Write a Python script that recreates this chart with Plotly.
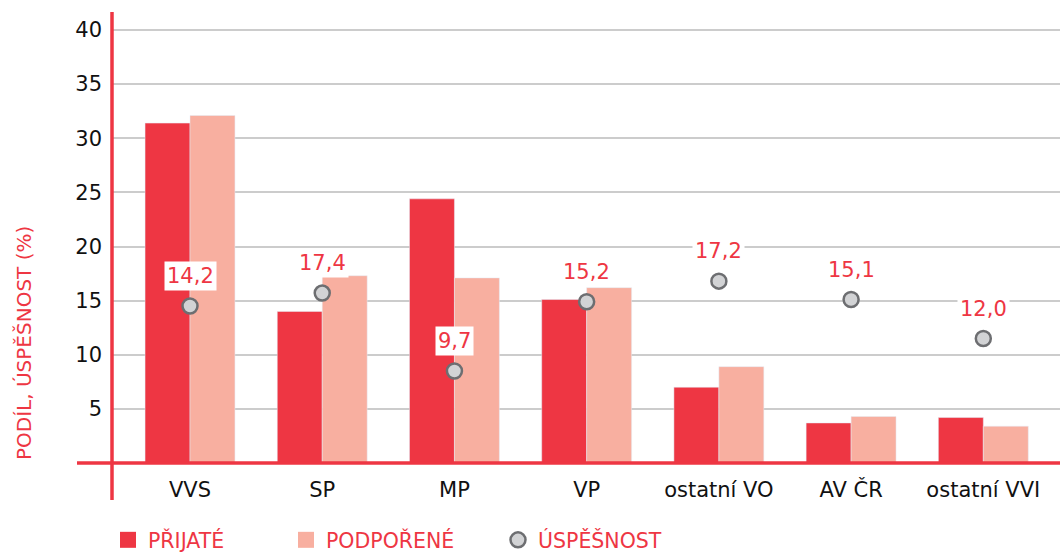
import plotly.graph_objects as go

categories = ["VVS", "SP", "MP", "VP", "ostatní VO", "AV ČR", "ostatní VVI"]
prijate = [31.4, 14.0, 24.4, 15.1, 7.0, 3.7, 4.2]
podporene = [32.1, 17.3, 17.1, 16.2, 8.9, 4.3, 3.4]
uspesnost = [14.5, 15.7, 8.5, 14.9, 16.8, 15.1, 11.5]
uspesnost_labels = ["14,2", "17,4", "9,7", "15,2", "17,2", "15,1", "12,0"]
y_ticks = [5, 10, 15, 20, 25, 30, 35, 40]

RED = "#EE3643"
PINK = "#F8AFA0"
FONT = "DejaVu Sans"

fig = go.Figure()
fig.add_trace(go.Bar(x=categories, y=prijate, marker_color=RED, showlegend=False, name="PŘIJATÉ"))
fig.add_trace(go.Bar(x=categories, y=podporene, marker_color=PINK, showlegend=False, name="PODPOŘENÉ"))
fig.add_trace(go.Scatter(x=categories, y=uspesnost, mode="markers", showlegend=False, name="ÚSPĚŠNOST",
                         marker=dict(size=15, color="#D2D3D5", line=dict(color="#6D6E71", width=2.5))))

# legend-only traces
fig.add_trace(go.Scatter(x=[None], y=[None], mode="markers", name="PŘIJATÉ", legend="legend",
                         marker=dict(symbol="square", size=20, color=RED)))
fig.add_trace(go.Scatter(x=[None], y=[None], mode="markers", name="PODPOŘENÉ", legend="legend2",
                         marker=dict(symbol="square", size=20, color=PINK)))
fig.add_trace(go.Scatter(x=[None], y=[None], mode="markers", name="ÚSPĚŠNOST", legend="legend3",
                         marker=dict(size=15, color="#D2D3D5", line=dict(color="#6D6E71", width=2.5))))

for c, v, t in zip(categories, uspesnost, uspesnost_labels):
    fig.add_annotation(x=c, y=v, text=t, showarrow=False, yshift=30, bgcolor="white",
                       borderpad=2, font=dict(family=FONT, size=21, color=RED))

W, H = 1060, 552
L, R, T, B = 112, 0, 12, 89
pw, ph = W - L - R, H - T - B

def px(xp):
    return (xp - L) / pw

def py(yp):
    return (H - B - yp) / ph

# y-axis title
fig.add_annotation(xref="paper", yref="paper", x=px(24), y=py(343), xanchor="center", yanchor="middle",
                   text="PODÍL, ÚSPĚŠNOST (%)", textangle=-90, showarrow=False,
                   font=dict(family=FONT, size=20, color=RED))

# axis lines extending beyond plot
fig.add_shape(type="line", xref="paper", yref="paper", x0=px(112), x1=px(112), y0=py(12), y1=py(500),
              line=dict(color=RED, width=3.5))
fig.add_shape(type="line", xref="paper", yref="paper", x0=px(77), x1=px(1060), y0=py(463), y1=py(463),
              line=dict(color=RED, width=3.5))

legend_common = dict(orientation="h", yanchor="middle", xanchor="left", xref="container", yref="container",
                     y=1 - 540 / H,
                     font=dict(family=FONT, size=20.5, color=RED), bgcolor="rgba(0,0,0,0)",
                     itemsizing="trace")
fig.update_layout(
    width=W, height=H,
    margin=dict(l=L, r=R, t=T, b=B),
    paper_bgcolor="white", plot_bgcolor="white",
    barmode="group", bargap=0.32, bargroupgap=0,
    font=dict(family=FONT),
    legend=dict(x=108 / W, **legend_common),
    legend2=dict(x=286 / W, **legend_common),
    legend3=dict(x=498 / W, **legend_common),
    xaxis=dict(range=[-0.59, 6.58], showline=False, showgrid=False, zeroline=False,
               tickfont=dict(family=FONT, size=21, color="#111111"), ticks="", ticklabelstandoff=12),
    yaxis=dict(range=[0, ph / 10.825], tickvals=y_ticks, showline=False, zeroline=False,
               showgrid=True, gridcolor="#CCCCCC", gridwidth=1.5,
               tickfont=dict(family=FONT, size=21, color="#111111"), ticks="", ticklabelstandoff=9),
)

fig.write_html("out.html", config={"displayModeBar": False},
               post_script="document.body.style.margin='0';")
